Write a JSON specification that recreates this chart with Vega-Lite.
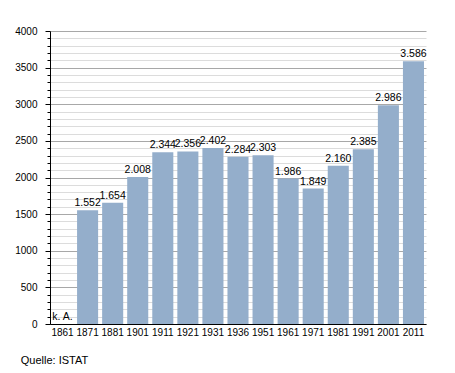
{
  "$schema": "https://vega.github.io/schema/vega-lite/v6.json",
  "autosize": {"type": "none"},
  "width": 376,
  "height": 293,
  "padding": {"left": 50, "top": 31, "right": 29, "bottom": 49},
  "background": "white",
  "title": {"text": "Quelle: ISTAT", "orient": "bottom", "anchor": "start", "frame": "bounds", "fontSize": 11, "fontWeight": "normal", "font": "Liberation Sans", "color": "#000", "offset": 18, "dx": 6},
  "data": {"values": [
    {"year": "1861", "value": null},
    {"year": "1871", "value": 1552},
    {"year": "1881", "value": 1654},
    {"year": "1901", "value": 2008},
    {"year": "1911", "value": 2344},
    {"year": "1921", "value": 2356},
    {"year": "1931", "value": 2402},
    {"year": "1936", "value": 2284},
    {"year": "1951", "value": 2303},
    {"year": "1961", "value": 1986},
    {"year": "1971", "value": 1849},
    {"year": "1981", "value": 2160},
    {"year": "1991", "value": 2385},
    {"year": "2001", "value": 2986},
    {"year": "2011", "value": 3586}
  ]},
  "encoding": {
    "x": {"field": "year", "type": "ordinal", "title": null,
      "scale": {"domain": ["1861","1871","1881","1901","1911","1921","1931","1936","1951","1961","1971","1981","1991","2001","2011"], "paddingInner": 0.16, "paddingOuter": 0.08},
      "axis": {"labelAngle": 0, "ticks": false, "domainColor": "#000", "labelFontSize": 10, "labelPadding": 3, "labelColor": "#000", "labelOverlap": false}}
  },
  "layer": [
    {
      "mark": {"type": "bar", "color": "#94aecb"},
      "encoding": {
        "y": {"field": "value", "type": "quantitative", "title": null,
          "scale": {"domain": [0, 4000], "nice": false},
          "axis": {
            "values": [0,100,200,300,400,500,600,700,800,900,1000,1100,1200,1300,1400,1500,1600,1700,1800,1900,2000,2100,2200,2300,2400,2500,2600,2700,2800,2900,3000,3100,3200,3300,3400,3500,3600,3700,3800,3900,4000],
            "tickCount": 100,
            "labelExpr": "datum.value % 500 === 0 ? datum.label : ''",
            "labelOverlap": false,
            "format": "d",
            "gridColor": {"condition": {"test": "datum.value % 500 === 0", "value": "#a8a8a8"}, "value": "#dcdcdc"},
            "tickSize": {"condition": {"test": "datum.value % 500 === 0", "value": 5}, "value": 3},
            "tickColor": "#000",
            "domainColor": "#000",
            "labelFontSize": 10,
            "labelColor": "#000",
            "labelPadding": 8
          }}
      }
    },
    {
      "transform": [{"filter": "datum.value != null"}],
      "mark": {"type": "text", "baseline": "bottom", "dy": -2, "fontSize": 10.5, "font": "Liberation Sans", "color": "#000"},
      "encoding": {
        "y": {"field": "value", "type": "quantitative"},
        "text": {"field": "value", "type": "quantitative", "format": ",d"}
      }
    },
    {
      "transform": [{"filter": "datum.value == null"}],
      "mark": {"type": "text", "baseline": "bottom", "dy": -2, "fontSize": 10.5, "font": "Liberation Sans", "color": "#000"},
      "encoding": {
        "y": {"datum": 0, "type": "quantitative"},
        "text": {"value": "k. A."}
      }
    }
  ],
  "config": {
    "font": "Liberation Sans",
    "view": {"stroke": null},
    "locale": {"number": {"decimal": ",", "thousands": ".", "grouping": [3], "currency": ["", " €"]}}
  }
}
